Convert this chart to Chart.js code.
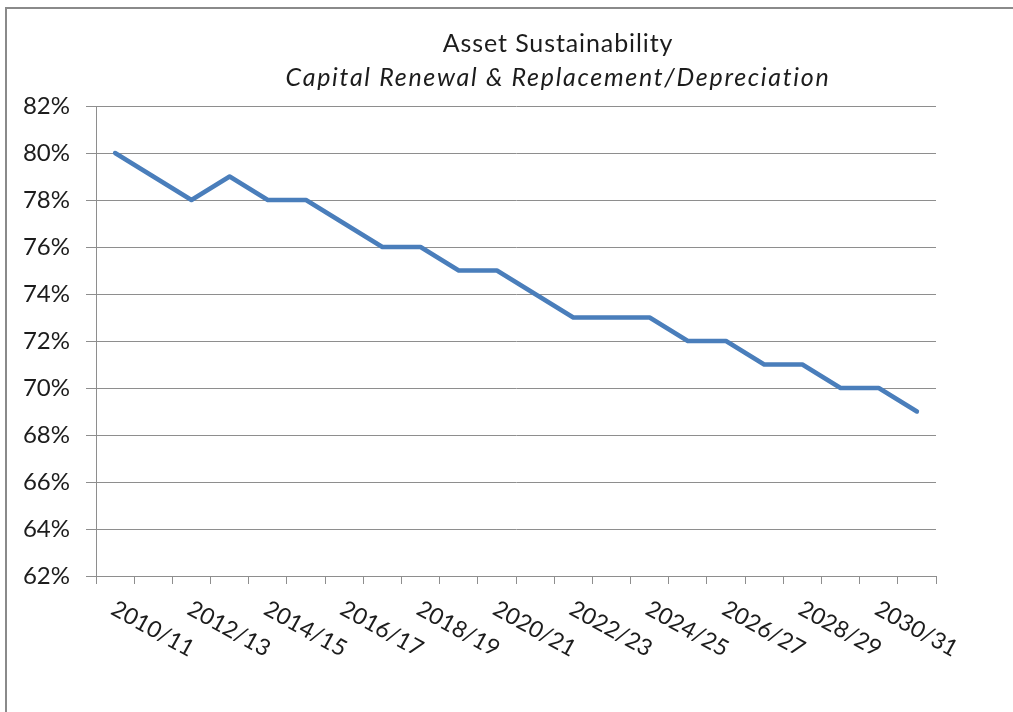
<!DOCTYPE html>
<html>
<head>
<meta charset="utf-8">
<script src="https://cdn.jsdelivr.net/npm/chart.js@4.4.1/dist/chart.umd.min.js"></script>
<style>
    html, body { margin: 0; padding: 0; background: #fff; overflow: hidden; }
    #frame {
        position: absolute;
        left: 5px;
        top: 7px;
        border: 2px solid #8a8a8a;
        width: 1102px;
        height: 720px;
    }
    canvas { display: block; }
</style>
</head>
<body>
<div id="frame">
    <canvas id="sustainChart" width="1102" height="720"></canvas>
</div>
<script>
const seasons = [
    "2010/11", "2011/12", "2012/13", "2013/14", "2014/15", "2015/16",
    "2016/17", "2017/18", "2018/19", "2019/20", "2020/21", "2021/22",
    "2022/23", "2023/24", "2024/25", "2025/26", "2026/27", "2027/28",
    "2028/29", "2029/30", "2030/31", "2031/32",
];
// renewal & replacement as % of depreciation
const renewalRatio = [
    80, 79, 78, 79, 78, 78, 77, 76, 76, 75, 75,
    74, 73, 73, 73, 72, 72, 71, 71, 70, 70, 69,
];
const yMin = 62;
const yMax = 82;
const yStep = 2;

const titleText = "Asset Sustainability";
const subtitleText = "Capital Renewal & Replacement/Depreciation";

const FONT = "Lato, 'Open Sans', sans-serif";
const TEXT_COLOR = "#1c1c1c";
const GRID_COLOR = "#8e8e8e";

// titles centred over the whole frame
const titlePlugin = {
    id: "frameTitles",
    afterDraw(chart) {
        const ctx = chart.ctx;
        const cx = chart.width / 2;
        ctx.save();
        ctx.fillStyle = TEXT_COLOR;
        ctx.textAlign = "center";
        ctx.textBaseline = "middle";
        ctx.font = "25px " + FONT;
        ctx.letterSpacing = "0.9px";
        ctx.fillText(titleText, cx, 35);
        ctx.font = "italic 25px " + FONT;
        ctx.letterSpacing = "1.7px";
        ctx.fillText(subtitleText, cx, 69);
        ctx.restore();
    },
};

// x labels hang down to the right of their tick, every second season
const slantLabels = {
    id: "slantLabels",
    afterDraw(chart) {
        const scale = chart.scales.x;
        const ctx = chart.ctx;
        ctx.save();
        ctx.fillStyle = TEXT_COLOR;
        ctx.font = "23px " + FONT;
        ctx.textAlign = "left";
        ctx.textBaseline = "middle";
        seasons.forEach((label, i) => {
            if (i % 2 !== 0) return;
            const x = scale.getPixelForValue(i);
            ctx.save();
            ctx.translate(x - 2, scale.top + 31);
            ctx.rotate((29 * Math.PI) / 180);
            ctx.fillText(label, 0, 0);
            ctx.restore();
        });
        ctx.restore();
    },
};

const ctx = document.getElementById("sustainChart").getContext("2d");

new Chart(ctx, {
    type: "line",
    data: {
        labels: seasons,
        datasets: [
            {
                label: subtitleText,
                data: renewalRatio,
                borderColor: "#4a7ebb",
                borderWidth: 4.5,
                borderJoinStyle: "round",
                borderCapStyle: "round",
                pointRadius: 0,
                pointHoverRadius: 0,
                tension: 0,
                fill: false,
            },
        ],
    },
    options: {
        responsive: false,
        devicePixelRatio: 1,
        animation: false,
        layout: {
            padding: { top: 97, right: 173, bottom: 0, left: 0 },
        },
        plugins: {
            legend: { display: false },
            title: { display: false },
            tooltip: { enabled: false },
        },
        scales: {
            x: {
                type: "category",
                offset: true,
                afterFit(scale) {
                    scale.height = 720 - 567;
                },
                grid: {
                    offset: true,
                    drawOnChartArea: false,
                    drawTicks: true,
                    tickLength: 8,
                    color: GRID_COLOR,
                    lineWidth: 1,
                },
                border: { color: GRID_COLOR, width: 1 },
                ticks: { display: false, autoSkip: false },
            },
            y: {
                min: yMin,
                max: yMax,
                afterFit(scale) {
                    scale.width = 89;
                },
                ticks: {
                    stepSize: yStep,
                    padding: 16,
                    color: TEXT_COLOR,
                    font: { family: FONT, size: 24 },
                    callback: (v) => v + "%",
                },
                grid: {
                    color: GRID_COLOR,
                    lineWidth: 1,
                    drawTicks: true,
                    tickLength: 10,
                },
                border: { color: GRID_COLOR, width: 1 },
            },
        },
    },
    plugins: [titlePlugin, slantLabels],
});
</script>
</body>
</html>
